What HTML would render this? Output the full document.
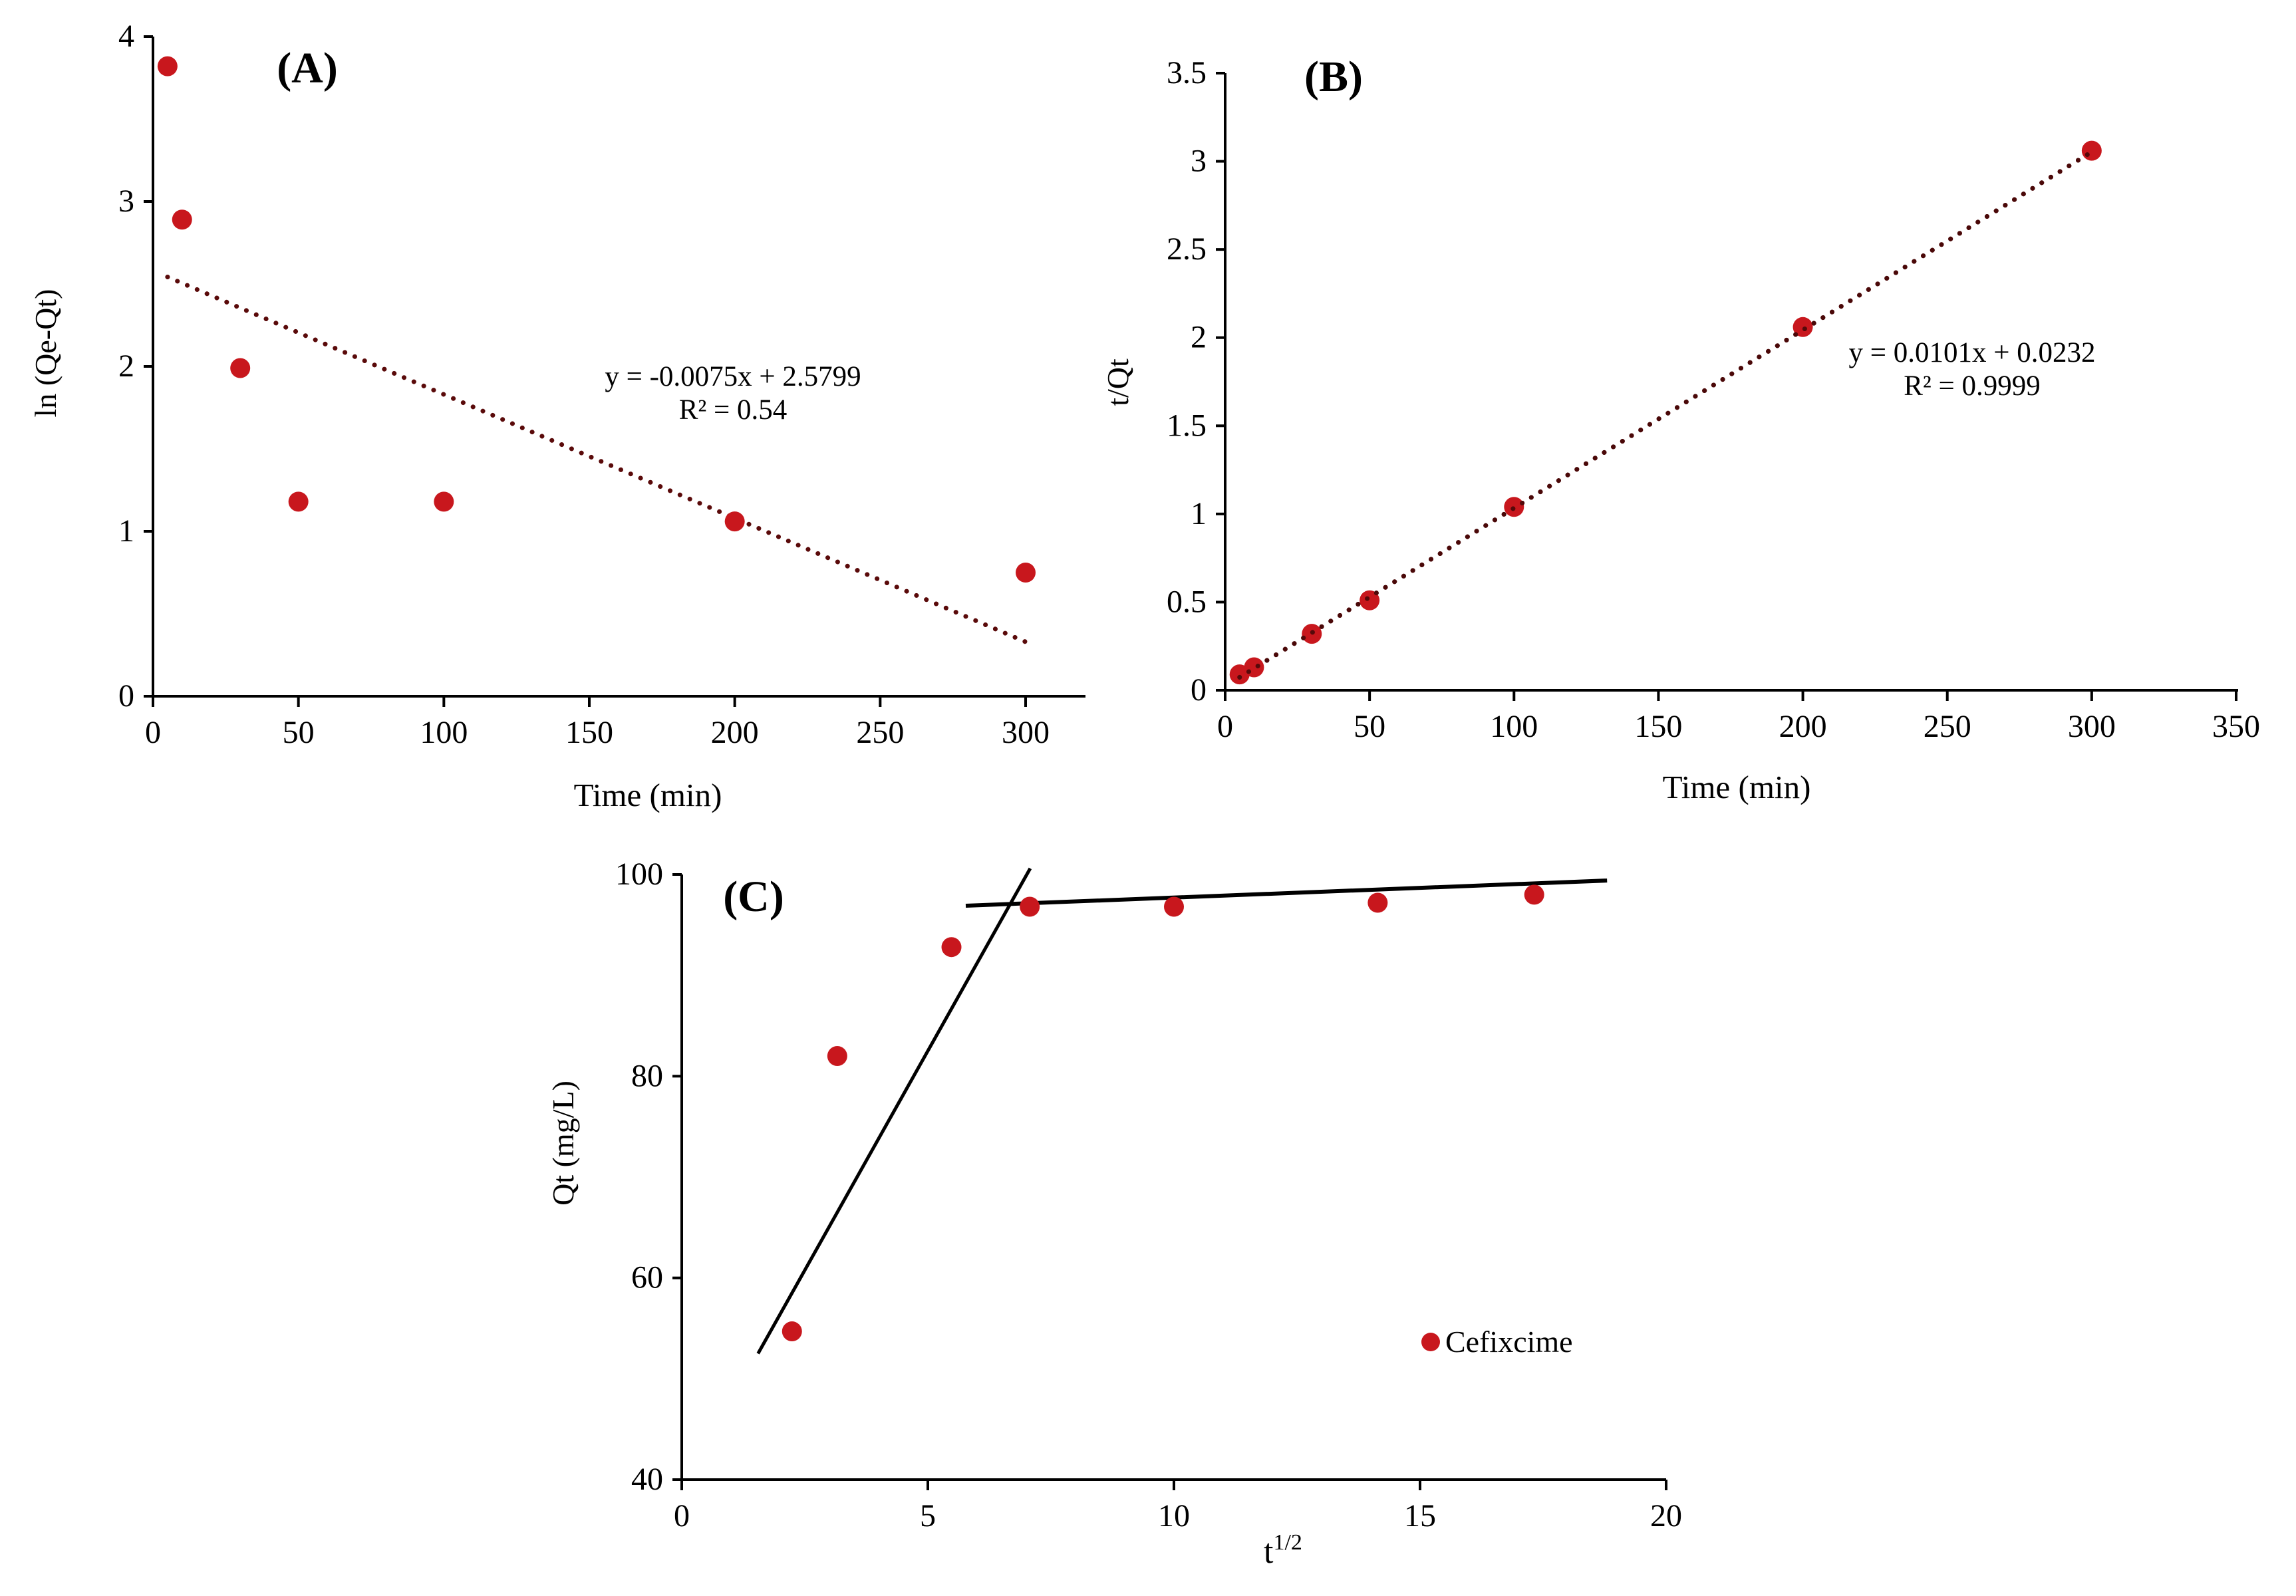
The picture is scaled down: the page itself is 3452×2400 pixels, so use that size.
<!DOCTYPE html>
<html><head><meta charset="utf-8"><style>
html,body{margin:0;padding:0;background:#fff;}
svg{display:block;font-family:"Liberation Serif",serif;}
</style></head><body>
<svg id="chart" width="3452" height="2400" viewBox="0 0 3452 2400"></svg>
<script>
// Panel A data
const aX = [5, 10, 30, 50, 100, 200, 300];
const aY = [3.82, 2.89, 1.99, 1.18, 1.18, 1.06, 0.75];
const aXTicks = [0, 50, 100, 150, 200, 250, 300];
const aYTicks = [0, 1, 2, 3, 4];
const aFit = [-0.0075, 2.5799];
// Panel B data
const bX = [5, 10, 30, 50, 100, 200, 300];
const bY = [0.09, 0.13, 0.32, 0.51, 1.04, 2.06, 3.06];
const bXTicks = [0, 50, 100, 150, 200, 250, 300, 350];
const bYTicks = [0, 0.5, 1, 1.5, 2, 2.5, 3, 3.5];
const bFit = [0.0101, 0.0232];
// Panel C data
const cX = [2.24, 3.16, 5.48, 7.07, 10, 14.14, 17.32];
const cY = [54.7, 82, 92.8, 96.8, 96.8, 97.2, 98];
const cXTicks = [0, 5, 10, 15, 20];
const cYTicks = [40, 60, 80, 100];
const cLine1 = [[1.55, 52.5], [7.08, 100.6]];
const cLine2 = [[5.77, 96.9], [18.8, 99.4]];

const svg = document.getElementById('chart');
const NS = 'http://www.w3.org/2000/svg';
function mk(tag, attrs, parent) {
  const e = document.createElementNS(NS, tag);
  for (const k in attrs) e.setAttribute(k, attrs[k]);
  (parent || svg).appendChild(e);
  return e;
}
function txt(s, attrs, parent) { const t = mk('text', attrs, parent); t.textContent = s; return t; }

function panel(cfg) {
  const g = mk('g', {});
  
  
  const sx = v => cfg.x0 + (v - cfg.xmin) / (cfg.xmax - cfg.xmin) * (cfg.x1 - cfg.x0);
  const sy = v => cfg.y0 - (v - cfg.ymin) / (cfg.ymax - cfg.ymin) * (cfg.y0 - cfg.y1);
  const ya = mk('line', {x1: cfg.x0, y1: cfg.y0 + 2, x2: cfg.x0, y2: cfg.y1, stroke: '#000', 'stroke-width': 4}, g);
  
  
  const xa = mk('line', {x1: cfg.x0 - 14, y1: cfg.y0, x2: cfg.xend, y2: cfg.y0, stroke: '#000', 'stroke-width': 4}, g);
  
  
  cfg.xt.forEach((v, i) => {
    const x = sx(v);
    mk('line', {x1: x, y1: cfg.y0, x2: x, y2: cfg.y0 + 16, stroke: '#000', 'stroke-width': 4}, g);
    const t = txt(String(v), {x: x, y: cfg.y0 + 70, 'font-size': 48, 'text-anchor': 'middle'}, g);
    
    
  });
  cfg.yt.forEach(v => {
    const y = sy(v);
    mk('line', {x1: cfg.x0 - 14, y1: y, x2: cfg.x0, y2: y, stroke: '#000', 'stroke-width': 4}, g);
    const t = txt(String(v), {x: cfg.x0 - 28, y: y + 15, 'font-size': 48, 'text-anchor': 'end'}, g);
    
    
  });
  cfg.lines.forEach(l => {
    const ln = mk('line', {x1: sx(l[0][0]), y1: sy(l[0][1]), x2: sx(l[1][0]), y2: sy(l[1][1]),
      stroke: l[2], 'stroke-width': l[3], 'stroke-dasharray': l[4] || 'none', 'stroke-linecap': l[4] ? 'round' : 'butt'}, g);
    
    
  });
  cfg.xs.forEach((v, i) => {
    const c = mk('circle', {cx: sx(v), cy: sy(cfg.ys[i]), r: 15, fill: '#c8171d'}, g);
    
    
  });
  if (cfg.overDots) cfg.lines.forEach(l => {
    mk('line', {x1: sx(l[0][0]), y1: sy(l[0][1]), x2: sx(l[1][0]), y2: sy(l[1][1]),
      stroke: l[2], 'stroke-width': l[3], 'stroke-dasharray': l[4], 'stroke-linecap': 'round', opacity: 0.9}, g);
  });
  return g;
}

const gA = panel({name: 'panel-a', x0: 230, x1: 1542, y0: 1047, y1: 55, xend: 1632,
  xmin: 0, xmax: 300, ymin: 0, ymax: 4, xt: aXTicks, yt: aYTicks, xs: aX, ys: aY,
  lines: [[[5, aFit[0] * 5 + aFit[1]], [300, aFit[0] * 300 + aFit[1]], '#5a0a0a', 7, '0.1 16']]});
const gB = panel({name: 'panel-b', x0: 1842, x1: 3362, y0: 1038, y1: 110, xend: 3365,
  xmin: 0, xmax: 350, ymin: 0, ymax: 3.5, xt: bXTicks, yt: bYTicks, xs: bX, ys: bY, overDots: true,
  lines: [[[5, bFit[0] * 5 + bFit[1]], [300, bFit[0] * 300 + bFit[1]], '#4a0808', 7, '0.1 16']]});
const gC = panel({name: 'panel-c', x0: 1025, x1: 2505, y0: 2225, y1: 1315, xend: 2505,
  xmin: 0, xmax: 20, ymin: 40, ymax: 100, xt: cXTicks, yt: cYTicks, xs: cX, ys: cY,
  lines: [[cLine1[0], cLine1[1], '#000', 5], [cLine2[0], cLine2[1], '#000', 6]]});

function label(s, attrs, name, parent) {
  const t = txt(s, attrs, parent);
  
  
  return t;
}
label('(A)', {x: 462, y: 124, 'font-size': 66, 'font-weight': 'bold', 'text-anchor': 'middle'}, 'panel-a-title', gA);
label('y = -0.0075x + 2.5799', {x: 1102, y: 580, 'font-size': 43, 'text-anchor': 'middle'}, 'panel-a-equation', gA);
label('R² = 0.54', {x: 1102, y: 630, 'font-size': 43, 'text-anchor': 'middle'}, 'panel-a-r2', gA);
label('Time (min)', {x: 974, y: 1212, 'font-size': 49, 'text-anchor': 'middle'}, 'x-axis-title', gA);
label('ln (Qe-Qt)', {x: 0, y: 0, 'font-size': 46, 'text-anchor': 'middle', transform: 'translate(84,531) rotate(-90)'}, 'y-axis-title', gA);

label('(B)', {x: 2005, y: 137, 'font-size': 66, 'font-weight': 'bold', 'text-anchor': 'middle'}, 'panel-b-title', gB);
label('y = 0.0101x + 0.0232', {x: 2965, y: 544, 'font-size': 43, 'text-anchor': 'middle'}, 'panel-b-equation', gB);
label('R² = 0.9999', {x: 2965, y: 594, 'font-size': 43, 'text-anchor': 'middle'}, 'panel-b-r2', gB);
label('Time (min)', {x: 2611, y: 1200, 'font-size': 49, 'text-anchor': 'middle'}, 'x-axis-title', gB);
label('t/Qt', {x: 0, y: 0, 'font-size': 46, 'text-anchor': 'middle', transform: 'translate(1696,575) rotate(-90)'}, 'y-axis-title', gB);

label('(C)', {x: 1133, y: 1370, 'font-size': 66, 'font-weight': 'bold', 'text-anchor': 'middle'}, 'panel-c-title', gC);
label('Qt (mg/L)', {x: 0, y: 0, 'font-size': 46, 'text-anchor': 'middle', transform: 'translate(862,1719) rotate(-90)'}, 'y-axis-title', gC);
const xt = label('t', {x: 1900, y: 2350, 'font-size': 52}, 'x-axis-title', gC);
const sup = mk('tspan', {'font-size': 34, dy: -20}, xt); sup.textContent = '1/2';
const lm = mk('circle', {cx: 2151, cy: 2018, r: 14, fill: '#c8171d'}, gC);


label('Cefixcime', {x: 2173, y: 2033, 'font-size': 46}, 'legend-label', gC);
</script>
</body></html>
